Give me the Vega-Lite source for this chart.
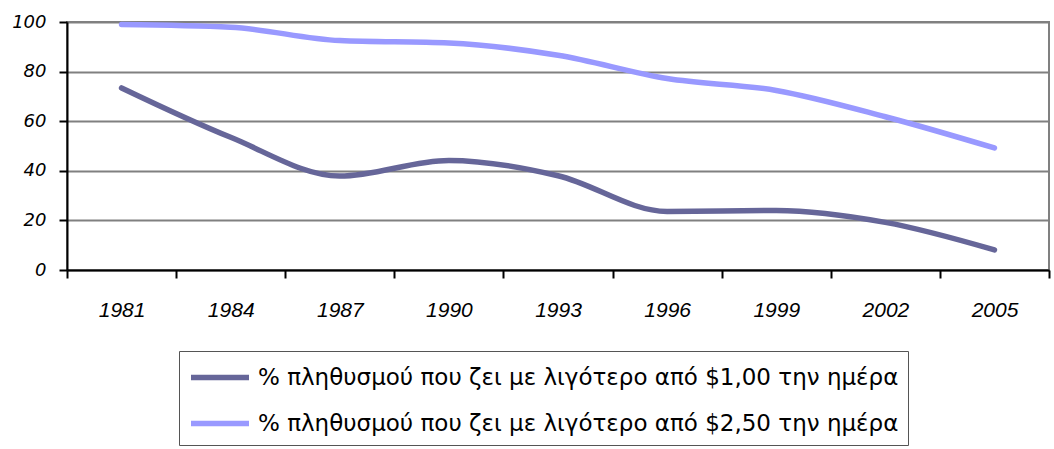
{
  "$schema": "https://vega.github.io/schema/vega-lite/v6.json",
  "width": 982,
  "height": 248,
  "autosize": "none",
  "padding": {"left": 67, "top": 22, "right": 5, "bottom": 179},
  "background": "white",
  "config": {
    "view": {"stroke": "#808080", "strokeWidth": 2},
    "axis": {"labelFont": "DejaVu Sans", "labelFontStyle": "italic", "labelFontSize": 18, "labelColor": "#000000", "domainColor": "#000000", "domainWidth": 2, "tickColor": "#000000", "tickWidth": 2, "tickSize": 8}
  },
  "data": {
    "values": [
      {"year": 1981, "series": "% πληθυσμού που ζει με λιγότερο από $1,00 την ημέρα", "value": 73.4},
      {"year": 1984, "series": "% πληθυσμού που ζει με λιγότερο από $1,00 την ημέρα", "value": 53.5},
      {"year": 1987, "series": "% πληθυσμού που ζει με λιγότερο από $1,00 την ημέρα", "value": 37.9},
      {"year": 1990, "series": "% πληθυσμού που ζει με λιγότερο από $1,00 την ημέρα", "value": 44.2},
      {"year": 1993, "series": "% πληθυσμού που ζει με λιγότερο από $1,00 την ημέρα", "value": 38.0},
      {"year": 1996, "series": "% πληθυσμού που ζει με λιγότερο από $1,00 την ημέρα", "value": 23.6},
      {"year": 1999, "series": "% πληθυσμού που ζει με λιγότερο από $1,00 την ημέρα", "value": 24.0},
      {"year": 2002, "series": "% πληθυσμού που ζει με λιγότερο από $1,00 την ημέρα", "value": 19.2},
      {"year": 2005, "series": "% πληθυσμού που ζει με λιγότερο από $1,00 την ημέρα", "value": 8.1},
      {"year": 1981, "series": "% πληθυσμού που ζει με λιγότερο από $2,50 την ημέρα", "value": 99.0},
      {"year": 1984, "series": "% πληθυσμού που ζει με λιγότερο από $2,50 την ημέρα", "value": 97.9},
      {"year": 1987, "series": "% πληθυσμού που ζει με λιγότερο από $2,50 την ημέρα", "value": 92.5},
      {"year": 1990, "series": "% πληθυσμού που ζει με λιγότερο από $2,50 την ημέρα", "value": 91.5},
      {"year": 1993, "series": "% πληθυσμού που ζει με λιγότερο από $2,50 την ημέρα", "value": 86.6},
      {"year": 1996, "series": "% πληθυσμού που ζει με λιγότερο από $2,50 την ημέρα", "value": 77.2},
      {"year": 1999, "series": "% πληθυσμού που ζει με λιγότερο από $2,50 την ημέρα", "value": 72.4},
      {"year": 2002, "series": "% πληθυσμού που ζει με λιγότερο από $2,50 την ημέρα", "value": 61.8},
      {"year": 2005, "series": "% πληθυσμού που ζει με λιγότερο από $2,50 την ημέρα", "value": 49.2}
    ]
  },
  "mark": {"type": "line", "interpolate": "monotone", "strokeWidth": 5.5, "strokeCap": "round", "clip": false},
  "encoding": {
    "x": {
      "field": "year", "type": "quantitative",
      "scale": {"domain": [1979.5, 2006.5], "nice": false, "zero": false},
      "axis": {
        "title": null, "grid": false,
        "values": [1979.5, 1982.5, 1985.5, 1988.5, 1991.5, 1994.5, 1997.5, 2000.5, 2003.5, 2006.5],
        "labelExpr": "datum.value < 2006 ? format(datum.value + 1.5, 'd') : ''",
        "labelFont": "Liberation Sans",
        "labelFontSize": 21,
        "labelOffset": 54.6,
        "labelPadding": 21,
        "labelFlush": false,
        "labelOverlap": false
      }
    },
    "y": {
      "field": "value", "type": "quantitative",
      "scale": {"domain": [0, 100], "nice": false},
      "axis": {
        "title": null,
        "values": [0, 20, 40, 60, 80, 100],
        "grid": true, "gridColor": "#808080", "gridWidth": 2, "gridOpacity": 1,
        "labelPadding": 13,
        "labelFlush": false
      }
    },
    "color": {
      "field": "series", "type": "nominal",
      "scale": {"domain": ["% πληθυσμού που ζει με λιγότερο από $1,00 την ημέρα", "% πληθυσμού που ζει με λιγότερο από $2,50 την ημέρα"], "range": ["#666699", "#9999ff"]},
      "legend": {
        "title": null,
        "orient": "none",
        "legendX": 112,
        "legendY": 329,
        "direction": "vertical",
        "symbolType": "M-1,0H3",
        "symbolSize": 841,
        "symbolStrokeWidth": 5.5,
        "labelFont": "DejaVu Sans",
        "labelFontSize": 23,
        "labelColor": "#000000",
        "labelOffset": 35,
        "labelLimit": 1000,
        "strokeColor": "#555555",
        "padding": 9,
        "rowPadding": 16,
        "fillColor": "white"
      }
    }
  }
}
